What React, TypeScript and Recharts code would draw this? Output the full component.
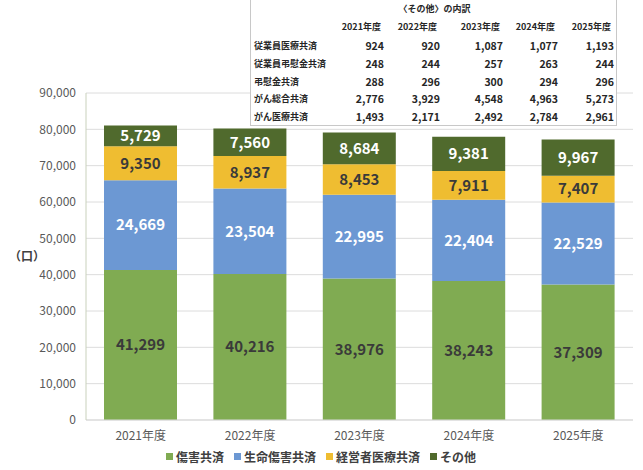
import React from "react";
import {
  BarChart,
  Bar,
  XAxis,
  YAxis,
  CartesianGrid,
  Legend,
  LabelList
} from "recharts";

const years = ["2021年度", "2022年度", "2023年度", "2024年度", "2025年度"];
const injury = [41299, 40216, 38976, 38243, 37309];
const lifeInjury = [24669, 23504, 22995, 22404, 22529];
const executiveMedical = [9350, 8937, 8453, 7911, 7407];
const others = [5729, 7560, 8684, 9381, 9967];
const yTicks = [0, 10000, 20000, 30000, 40000, 50000, 60000, 70000, 80000, 90000];

const breakdownTitle = "〈その他〉の内訳";
const breakdownRows = [
  "従業員医療共済",
  "従業員弔慰金共済",
  "弔慰金共済",
  "がん総合共済",
  "がん医療共済"
];
const breakdownValues = [
  [924, 920, 1087, 1077, 1193],
  [248, 244, 257, 263, 244],
  [288, 296, 300, 294, 296],
  [2776, 3929, 4548, 4963, 5273],
  [1493, 2171, 2492, 2784, 2961]
];

const series = [
  { key: "injury", name: "傷害共済", color: "#80AB52", label: "#3a3a3a" },
  { key: "lifeInjury", name: "生命傷害共済", color: "#6C98D3", label: "#ffffff" },
  { key: "executiveMedical", name: "経営者医療共済", color: "#EFBD31", label: "#3a3a3a" },
  { key: "others", name: "その他", color: "#506A2D", label: "#ffffff" }
];

const data = years.map((y, i) => ({
  year: y,
  injury: injury[i],
  lifeInjury: lifeInjury[i],
  executiveMedical: executiveMedical[i],
  others: others[i]
}));

const FONT = '"Noto Sans CJK JP", "Noto Sans", sans-serif';
const BORDER = "#c9d1bc";
const fmt = (v: any) => Number(v).toLocaleString("en-US");

const LegendContent = () => (
  <div
    style={{
      display: "flex",
      height: 20,
      alignItems: "center",
      paddingLeft: 166,
      fontFamily: FONT,
      fontSize: 12,
      fontWeight: 700,
      color: "#404040"
    }}
  >
    {series.map((s) => (
      <div key={s.key} style={{ display: "flex", alignItems: "center", marginRight: 10 }}>
        <span style={{ width: 7, height: 7, background: s.color, marginRight: 3 }} />
        {s.name}
      </div>
    ))}
  </div>
);

const BreakdownTable = () => {
  const cols = [384, 440, 503, 558, 614];
  return (
    <div
      style={{
        position: "absolute",
        left: 250,
        top: -1,
        width: 367,
        height: 127,
        background: "#fff",
        border: "1px solid #c8c8c8",
        boxSizing: "border-box",
        fontFamily: FONT,
        fontSize: 9,
        fontWeight: 700,
        color: "#262626",
        zIndex: 2
      }}
    >
      <div style={{ position: "absolute", left: 0, width: 367, top: 2, textAlign: "center" }}>
        {breakdownTitle}
      </div>
      {years.map((y, j) => (
        <div
          key={y}
          style={{ position: "absolute", right: 617 - cols[j] + 2, top: 20, whiteSpace: "nowrap" }}
        >
          {y}
        </div>
      ))}
      {breakdownRows.map((r, i) => (
        <React.Fragment key={r}>
          <div style={{ position: "absolute", left: 3, top: 39 + i * 17.8, whiteSpace: "nowrap" }}>{r}</div>
          {breakdownValues[i].map((v, j) => (
            <div
              key={j}
              style={{ position: "absolute", right: 617 - cols[j] - 1, top: 38 + i * 17.8, fontSize: 10.5 }}
            >
              {fmt(v)}
            </div>
          ))}
        </React.Fragment>
      ))}
    </div>
  );
};

export default function App() {
  return (
    <div style={{ position: "absolute", left: 0, top: 0, width: 643, height: 470, background: "#fff" }}>
      <BarChart
        width={643}
        height={470}
        data={data}
        margin={{ top: 93, right: 10, bottom: 4, left: 0 }}
        barCategoryGap={18}
      >
        <CartesianGrid vertical={false} stroke="#dcdcdc" />
        <XAxis
          dataKey="year"
          height={26}
          tickLine={false}
          tickSize={0}
          tickMargin={11}
          axisLine={{ stroke: "#d9d9d9" }}
          tick={{ fill: "#595959", fontSize: 12, fontFamily: FONT }}
        />
        <XAxis xAxisId="top" orientation="top" dataKey="year" height={0} tick={false} tickLine={false} axisLine={{ stroke: BORDER }} />
        <YAxis
          width={86}
          domain={[0, 90000]}
          ticks={yTicks}
          tickFormatter={fmt}
          tickLine={false}
          tickSize={0}
          tickMargin={10}
          axisLine={{ stroke: BORDER }}
          tick={{ fill: "#595959", fontSize: 12, fontFamily: FONT }}
          label={{
            value: "（口）",
            position: "insideLeft",
            offset: 9,
            fill: "#404040",
            fontSize: 12,
            fontWeight: 700,
            fontFamily: FONT
          }}
        />
        <YAxis yAxisId="right" orientation="right" width={0} tick={false} tickLine={false} axisLine={{ stroke: BORDER }} />
        <Legend verticalAlign="bottom" content={<LegendContent />} />
        {series.map((s) => (
          <Bar key={s.key} dataKey={s.key} name={s.name} stackId="a" fill={s.color} isAnimationActive={false}>
            <LabelList
              dataKey={s.key}
              position="center"
              formatter={fmt}
              fill={s.label}
              fontSize={15}
              fontWeight={700}
              fontFamily={FONT}
            />
          </Bar>
        ))}
      </BarChart>
      <BreakdownTable />
    </div>
  );
}
